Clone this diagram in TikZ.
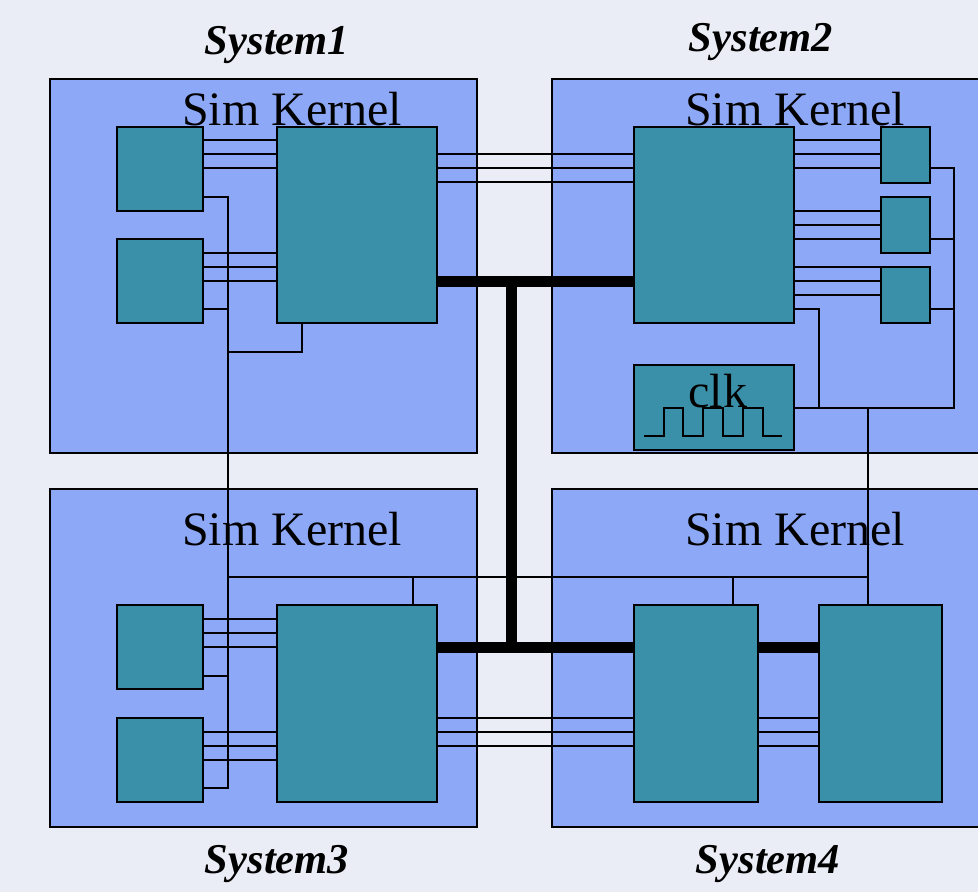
\documentclass[tikz,border=0pt]{standalone}
\usepackage{fontspec}
\setmainfont{Liberation Serif}
\usepackage{tikz}
\usetikzlibrary{calc,positioning}
\definecolor{simpage}{HTML}{EAEDF5}
\definecolor{simsys}{HTML}{8EA8F8}
\definecolor{simmod}{HTML}{3A90A8}
\begin{document}
\begin{tikzpicture}[x=1pt,y=-1pt,line cap=butt,line join=miter,
  sysbox/.style={draw=black,fill=simsys,line width=1.5pt,inner sep=0pt},
  modbox/.style={draw=black,fill=simmod,line width=1.5pt,inner sep=0pt},
  wire/.style={draw=black,line width=1.7pt},
  trunk/.style={draw=black,line width=11pt},
  kernel/.style={anchor=base,inner sep=0pt,font=\fontsize{48}{50}\selectfont},
  systitle/.style={inner sep=0pt,font=\fontsize{42.5}{44}\selectfont\bfseries\itshape}]
\path[use as bounding box] (0,0) rectangle (978,892);
\clip (0,0) rectangle (978,892);
\fill[simpage] (0,0) rectangle (978,892);

% the four systems
\node[sysbox,minimum width=427pt,minimum height=374pt] (sys1) at (263.5,266) {};
\node[sysbox,minimum width=448pt,minimum height=374pt] (sys2) at (776,266) {};
\node[sysbox,minimum width=427pt,minimum height=338pt] (sys3) at (263.5,658) {};
\node[sysbox,minimum width=448pt,minimum height=338pt] (sys4) at (776,658) {};
\node[systitle] (t1) at (277,45) {System1};
\node[systitle] (t2) at (761,42) {System2};
\node[systitle] (t3) at (277,864) {System3};
\node[systitle] (t4) at (768,864) {System4};
\node[kernel] (sk1) at (292,125) {Sim Kernel};
\node[kernel] (sk2) at (795,125) {Sim Kernel};
\node[kernel] (sk3) at (292,545) {Sim Kernel};
\node[kernel] (sk4) at (795,545) {Sim Kernel};

% modules
\node[modbox,minimum width=86pt,minimum height=84pt] (a1) at (160,169) {};
\node[modbox,minimum width=86pt,minimum height=84pt] (a2) at (160,281) {};
\node[modbox,minimum width=160pt,minimum height=196pt] (k1) at (357,225) {};
\node[modbox,minimum width=160pt,minimum height=196pt] (k2) at (714,225) {};
\node[modbox,minimum width=49pt,minimum height=56pt] (b1) at (905.5,155) {};
\node[modbox,minimum width=49pt,minimum height=56pt] (b2) at (905.5,225) {};
\node[modbox,minimum width=49pt,minimum height=56pt] (b3) at (905.5,295) {};
\node[modbox,minimum width=160pt,minimum height=85pt] (clk) at (714,407.5) {};
\node[modbox,minimum width=86pt,minimum height=84pt] (a3) at (160,647) {};
\node[modbox,minimum width=86pt,minimum height=84pt] (a4) at (160,760) {};
\node[modbox,minimum width=160pt,minimum height=197pt] (k3) at (357,703.5) {};
\node[modbox,minimum width=124pt,minimum height=197pt] (k4) at (696,703.5) {};
\node[modbox,minimum width=123pt,minimum height=197pt] (k5) at (880.5,703.5) {};

% system 1 wiring
\foreach \y in {140,154,168} \draw[wire] (a1.east |- 0,\y) -- (k1.west |- 0,\y);
\foreach \y in {253,267,281} \draw[wire] (a2.east |- 0,\y) -- (k1.west |- 0,\y);
\foreach \y in {154,168,182} \draw[wire] (k1.east |- 0,\y) -- (k2.west |- 0,\y);
\draw[wire] (a1.east |- 0,197) -| (228,788) -- (a4.east |- 0,788);
\draw[wire] (a2.east |- 0,309) -- (228,309);
\draw[wire] (k1.south -| 302,0) |- (228,352);

% system 2 wiring
\foreach \y in {140,154,168} \draw[wire] (k2.east |- 0,\y) -- (b1.west |- 0,\y);
\foreach \y in {211,225,239} \draw[wire] (k2.east |- 0,\y) -- (b2.west |- 0,\y);
\foreach \y in {267,281,295} \draw[wire] (k2.east |- 0,\y) -- (b3.west |- 0,\y);
\draw[wire] (b1.east |- 0,168) -| (954,408) -- (clk.east |- 0,408);
\draw[wire] (b2.east |- 0,239) -- (954,239);
\draw[wire] (b3.east |- 0,309) -- (954,309);
\draw[wire] (k2.east |- 0,309) -| (819,408);
\draw[wire] (868,408) -- (k5.north -| 868,0);

% clock
\draw[wire] (644,436) -- (664,436) -- (664,408) -- (683,408) -- (683,436)
  -- (703,436) -- (703,408) -- (723,408) -- (723,436) -- (743,436)
  -- (743,408) -- (763,408) -- (763,436) -- (782,436);
\node[kernel] (clktext) at (718,407) {clk};

% systems 3 and 4 wiring
\foreach \y in {619,633,647} \draw[wire] (a3.east |- 0,\y) -- (k3.west |- 0,\y);
\foreach \y in {732,746,760} \draw[wire] (a4.east |- 0,\y) -- (k3.west |- 0,\y);
\draw[wire] (a3.east |- 0,676) -- (228,676);
\draw[wire] (228,577) -- (868,577);
\draw[wire] (413,577) -- (k3.north -| 413,0);
\draw[wire] (733,577) -- (k4.north -| 733,0);
\foreach \y in {718,732,746} {
  \draw[wire] (k3.east |- 0,\y) -- (k4.west |- 0,\y);
  \draw[wire] (k4.east |- 0,\y) -- (k5.west |- 0,\y);
}

% shared bus
\draw[trunk] (k1.east |- 0,281) -- (k2.west |- 0,281);
\draw[trunk] (511.5,275.5) -- (511.5,652.5);
\draw[trunk] (k3.east |- 0,647) -- (k4.west |- 0,647);
\draw[trunk] (k4.east |- 0,647) -- (k5.west |- 0,647);
\end{tikzpicture}
\end{document}
